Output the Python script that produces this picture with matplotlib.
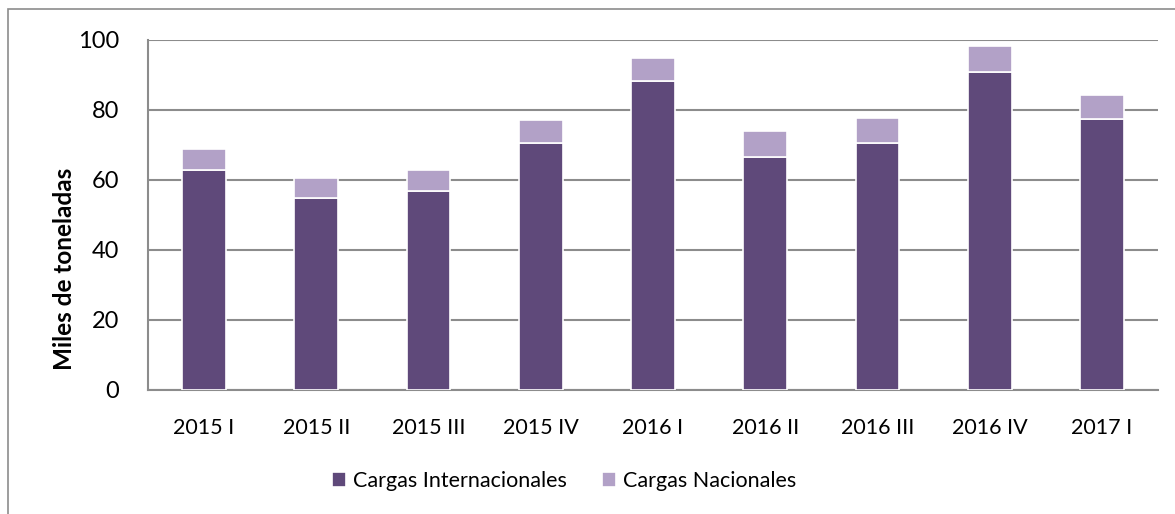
import numpy as np
import matplotlib.pyplot as plt
from matplotlib.patches import Rectangle

# Data (thousands of tonnes)
periods = ["2015 I", "2015 II", "2015 III", "2015 IV", "2016 I",
           "2016 II", "2016 III", "2016 IV", "2017 I"]
internacionales = [63.0, 55.0, 57.0, 70.6, 88.3, 66.7, 70.6, 90.9, 77.3]
nacionales = [5.8, 5.7, 6.0, 6.5, 6.6, 7.3, 7.1, 7.5, 6.9]

color_int = "#5F497A"
color_nac = "#B2A1C7"
grid_color = "#8C8C8C"

plt.rcParams['font.family'] = ['Lato', 'DejaVu Sans']

fig = plt.figure(figsize=(11.75, 5.14), dpi=100)
ax = fig.add_axes([148 / 1175, 1 - 390 / 514, 1010 / 1175, 350 / 514])

# outer chart border
fig.patches.append(Rectangle((8 / 1175, -0.1), 1.2, 1 - 9 / 514 + 0.1,
                             transform=fig.transFigure, fill=False,
                             edgecolor="#8C8C8C", linewidth=1.2))

x = np.arange(len(periods))
w = 0.39
ax.bar(x, internacionales, width=w, color=color_int, edgecolor="white",
       linewidth=1.2, label="Cargas Internacionales", zorder=3)
ax.bar(x, nacionales, width=w, bottom=internacionales, color=color_nac,
       edgecolor="white", linewidth=1.2, label="Cargas Nacionales", zorder=3)

ax.set_xlim(-0.5, len(periods) - 0.5)
ax.set_ylim(0, 100)
ax.set_yticks(range(0, 101, 20))
ax.set_xticks(x)
ax.set_xticklabels(periods)
ax.tick_params(axis="both", length=0)
ax.tick_params(axis="y", pad=21, labelsize=17)
ax.tick_params(axis="x", pad=20, labelsize=15.5)
ax.yaxis.grid(True, color=grid_color, linewidth=1.5, zorder=0)
ax.set_axisbelow(True)

for side in ["top", "right"]:
    ax.spines[side].set_visible(False)
for side in ["left", "bottom"]:
    ax.spines[side].set_color(grid_color)
    ax.spines[side].set_linewidth(1.5)

ax.set_ylabel("Miles de toneladas", fontsize=17.5, fontweight="bold")
ax.yaxis.set_label_coords(-0.071, 0.345)

ax.legend(loc="center", bbox_to_anchor=(564 / 1175, 1 - 481 / 514),
          bbox_transform=fig.transFigure, ncol=2, frameon=False,
          fontsize=15.5, handlelength=0.65, handleheight=0.65,
          columnspacing=1.6, handletextpad=0.35)

fig.savefig("out.png", dpi=100)
plt.close(fig)
